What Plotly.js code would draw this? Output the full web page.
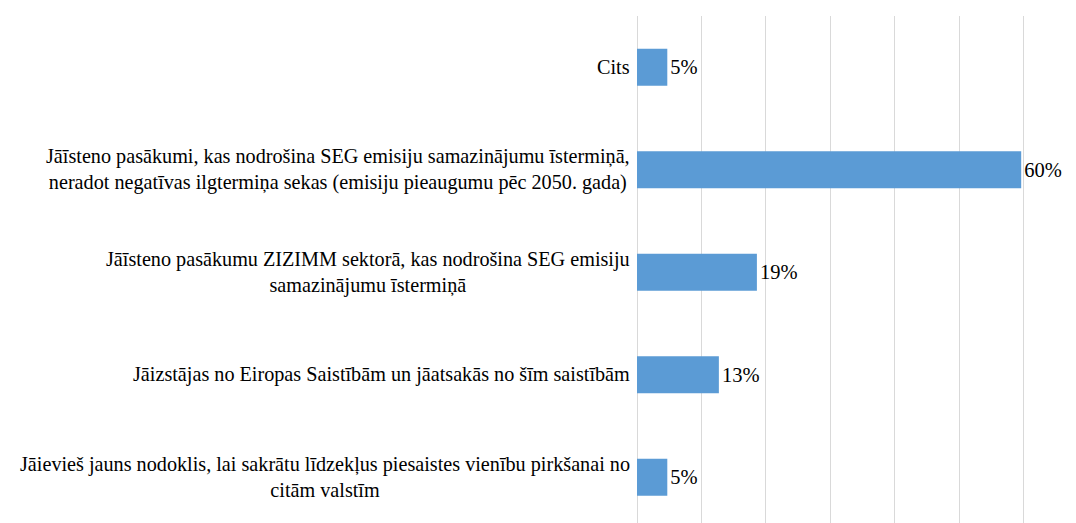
<!DOCTYPE html>
<html>
<head>
<meta charset="utf-8">
<script src="https://cdn.plot.ly/plotly-3.0.1.min.js"></script>
</head>
<body style="margin:0">
<div id="chart" style="width:1076px;height:523px"></div>
<script>
// answers, bottom to top as drawn
const answers = [
  'Jāievieš jauns nodoklis, lai sakrātu līdzekļus piesaistes vienību pirkšanai no<br>citām valstīm',
  'Jāizstājas no Eiropas Saistībām un jāatsakās no šīm saistībām',
  'Jāīsteno pasākumu ZIZIMM sektorā, kas nodrošina SEG emisiju<br>samazinājumu īstermiņā',
  'Jāīsteno pasākumi, kas nodrošina SEG emisiju samazinājumu īstermiņā,<br>neradot negatīvas ilgtermiņa sekas (emisiju pieaugumu pēc 2050. gada)',
  'Cits'
];
const shares = [0.047, 0.127, 0.186, 0.596, 0.047];
const shareLabels = ['5%', '13%', '19%', '60%', '5%'];

var bars = {
  type: 'bar',
  orientation: 'h',
  x: shares,
  y: answers,
  text: shareLabels,
  textposition: 'outside',
  constraintext: 'none',
  cliponaxis: false,
  textfont: { family: 'Liberation Serif', size: 20.5, color: '#000' },
  marker: { color: '#5b9bd5' },
  hoverinfo: 'skip'
};

// category labels drawn as centred annotations next to the axis
var labels = answers.map(function (a) {
  return {
    xref: 'paper', yref: 'y',
    x: 0, y: a,
    xanchor: 'right', yanchor: 'middle',
    xshift: -5,
    align: 'center',
    text: a,
    showarrow: false,
    font: { family: 'Liberation Serif', size: 20.2, color: '#000' }
  };
});

var layout = {
  width: 1076,
  height: 523,
  margin: { l: 637, r: 49, t: 16, b: 0 },
  showlegend: false,
  bargap: 0.64,
  xaxis: {
    range: [0, 0.605],
    dtick: 0.1,
    showticklabels: false,
    showgrid: true,
    gridcolor: '#d9d9d9',
    gridwidth: 1.3,
    zeroline: true,
    zerolinecolor: '#d9d9d9',
    zerolinewidth: 1.3,
    showline: false,
    fixedrange: true
  },
  yaxis: {
    type: 'category',
    range: [-0.446, 4.5],
    showticklabels: false,
    showgrid: false,
    zeroline: false,
    showline: false,
    fixedrange: true
  },
  annotations: labels
};

Plotly.newPlot('chart', [bars], layout, { displayModeBar: false });
</script>
</body>
</html>
